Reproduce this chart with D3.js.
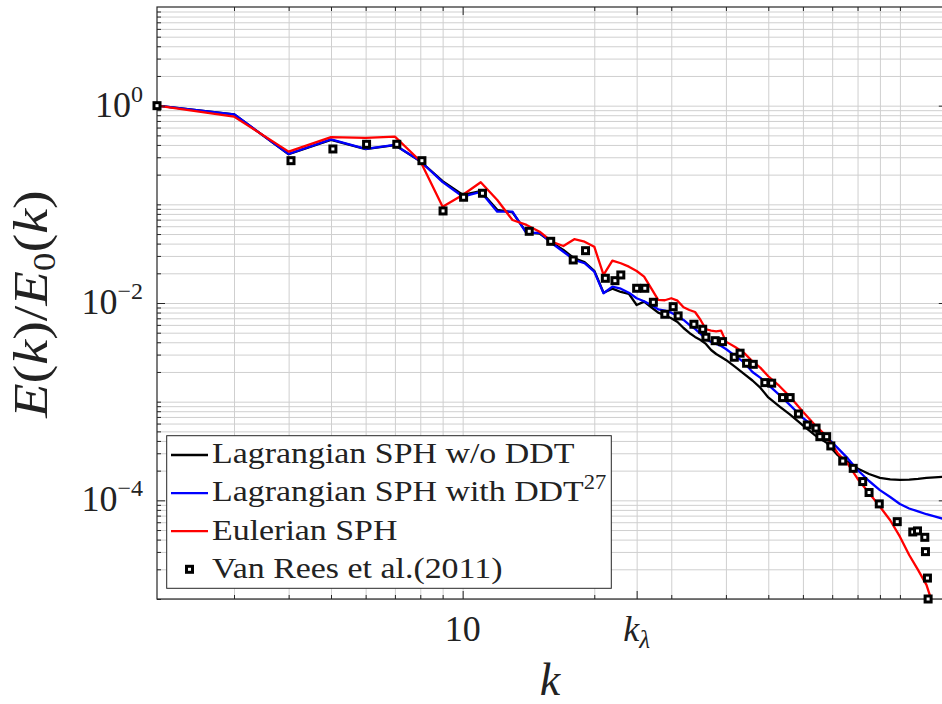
<!DOCTYPE html>
<html>
<head>
<meta charset="utf-8">
<script src="https://cdn.jsdelivr.net/npm/d3@7/dist/d3.min.js"></script>
<style>
  html, body { margin: 0; padding: 0; background: #ffffff; }
  svg { display: block; }
  text { font-family: "Liberation Serif", "Times New Roman", serif; fill: #222222; }
</style>
</head>
<body>
<svg id="chart" width="942" height="704"></svg>
<script>
// Wavenumbers at which the simulated spectra are sampled
const kLine = [2,3,4,5,6,7,8,9,10,11,12,13,14,15,16,17,18,19,20,21,22,23,24,25,26,27,28,29,30,
  31,32,33,34,35,36,37,38,39,40,42,44,46,48,50,53,56,60,64,68,72,76,80,85,90,95,100,105,110,115,120,128];

// Lagrangian SPH without density diffusion
const eBlack = [1.0,0.818,0.322,0.450,0.362,0.398,0.273,0.172,0.125,0.136,0.088,0.083,0.052,0.0505,0.041,
  0.0345,0.0283,0.026,0.0212,0.0127,0.01397,0.01294,0.01235,0.00955,0.01032,0.00905,0.00798,0.00751,0.00700,
  0.00642,0.00558,0.00497,0.00453,0.00422,0.00385,0.00334,0.00304,0.00284,0.00265,
  0.00225,0.00191,0.00164,0.001377,0.001103,0.000898,0.000742,0.000574,0.000455,0.000382,0.000288,0.000245,
  0.000210,0.000185,0.0001686,0.0001628,0.000161,0.000162,0.0001647,0.0001686,0.0001706,0.0001746];

// Lagrangian SPH with density diffusion
const eBlue = [1.0,0.818,0.324,0.456,0.364,0.400,0.275,0.168,0.120,0.134,0.0843,0.0843,0.0509,0.0516,0.0403,
  0.0331,0.0273,0.0253,0.0208,0.01255,0.01464,0.01397,0.01273,0.01117,0.01041,0.00955,0.00864,0.00836,0.00798,
  0.00739,0.00673,0.00599,0.00546,0.00486,0.00432,0.00403,0.00385,0.00367,0.00342,
  0.00291,0.00250,0.00200,0.00174,0.00148,0.00117,0.000928,0.000684,0.000541,0.000439,0.000340,0.000266,
  0.000203,0.000157,0.000127,0.000108,0.0000919,0.0000827,0.0000772,0.0000723,0.0000687,0.0000633];

// Eulerian SPH (drops out through the bottom of the axes near k = 118)
const kRed = [2,3,4,5,6,7,8,9,10,11,12,13,14,15,16,17,18,19,20,21,22,23,24,25,26,27,28,29,30,
  31,32,33,34,35,36,37,38,39,40,42,44,46,48,50,53,56,60,64,68,72,76,80,85,90,95,100,105,110,115,118];
const eRed = [1.0,0.774,0.342,0.479,0.471,0.485,0.275,0.0947,0.1245,0.1674,0.1107,0.0694,0.0618,0.0528,0.0418,
  0.0378,0.0443,0.0418,0.0372,0.01924,0.02686,0.02527,0.02335,0.02112,0.01849,0.0141,0.01074,0.01066,0.01117,
  0.01056,0.00905,0.0085,0.00811,0.00673,0.00542,0.00525,0.00517,0.00525,0.00406,
  0.00358,0.00312,0.00257,0.00220,0.00181,0.001443,0.001129,0.000792,0.000578,0.000442,0.000302,0.000234,
  0.0001658,0.0001188,0.0000863,0.0000628,0.0000428,0.0000279,0.0000197,0.0000139,0.0000098];

// Reference spectrum, Van Rees et al. (2011)
const kRef = [2,4.05,5.05,6.03,7.07,8.07,9.02,10.05,11.1,14.2,15.9,17.9,19.1,21.2,22.3,23.0,25.0,26.1,27.3,
  29.0,30.3,31.1,33.8,35.4,36.0,37.8,39.3,41.8,43.1,44.6,46.2,49.1,50.9,53.9,56.1,58.6,61.4,64.3,65.6,68,
  69.5,74,78.2,82.2,85,89.7,98.6,107,109.7,114,114.4,115.6,116];
const eRef = [1.0,0.277,0.364,0.406,0.406,0.277,0.0857,0.118,0.1295,0.0533,0.0422,0.0273,0.0339,0.0178,
  0.01684,0.01924,0.0141,0.0141,0.01017,0.00769,0.00918,0.0074,0.00609,0.00542,0.0045,0.00415,0.00406,
  0.00282,0.0031,0.00245,0.00239,0.00156,0.00154,0.0011,0.0011,0.00075,0.00058,0.00054,0.000442,0.000442,
  0.000356,0.00025,0.000211,0.000155,0.00012,0.000092,0.0000608,0.0000478,0.000049,0.0000422,0.0000302,
  0.0000163,0.00001];

// Axis ticks and labels
const xMajorTicks = [10, 25];
const xTickLabels = ["10", "k", "λ"];   // 25 is labelled k with subscript lambda
const xMinorTicks = [3,4,5,6,7,8,9,20,30,40,50,60,70,80,90,100];
const yMajorTicks = [1, 1e-2, 1e-4];
const yTickExponents = ["0", "−2", "−4"];

const seriesNames = ["Lagrangian SPH w/o DDT", "Lagrangian SPH with DDT", "Eulerian SPH", "Van Rees et al.(2011)"];
const seriesColors = ["#000000", "#0000ff", "#ff0000"];

const svg = d3.select("#chart");
const X0 = 157, X1 = 946.8, Y0 = 7, Y1 = 599;

const x = d3.scaleLog().domain([2, 128]).range([X0, X1]);
const y = d3.scaleLog().domain([1e-5, 10]).range([Y1, Y0]);

// Minor y ticks: 1..9 times each decade, excluding the labelled decades
const yMinorTicks = [];
for (let d = -5; d <= 0; d++) {
  for (let m = 1; m <= 9; m++) {
    const v = m * Math.pow(10, d);
    if (!yMajorTicks.some(t => Math.abs(t - v) / v < 1e-9)) yMinorTicks.push(v);
  }
}

svg.append("rect").attr("width", 942).attr("height", 704).attr("fill", "#fff");

// ---- grid ----
const grid = svg.append("g");
grid.append("g").attr("transform", `translate(0,${Y1})`)
  .call(d3.axisBottom(x).tickValues(xMinorTicks.concat(xMajorTicks)).tickSize(-(Y1 - Y0)).tickFormat(""));
grid.append("g").attr("transform", `translate(${X0},0)`)
  .call(d3.axisLeft(y).tickValues(yMinorTicks.concat(yMajorTicks)).tickSize(-(X1 - X0)).tickFormat(""));
grid.selectAll(".domain").remove();
grid.selectAll(".tick line").attr("stroke", "#cfcfcf").attr("stroke-width", 1);

// ---- data ----
svg.append("clipPath").attr("id", "plotClip")
  .append("rect").attr("x", X0).attr("y", Y0).attr("width", X1 - X0).attr("height", Y1 - Y0);

const line = d3.line().x(d => x(d[0])).y(d => y(d[1]));
const lineData = [d3.zip(kLine, eBlack), d3.zip(kLine, eBlue), d3.zip(kRed, eRed)];
const plot = svg.append("g").attr("clip-path", "url(#plotClip)");
lineData.forEach((pts, i) => {
  plot.append("path").datum(pts)
    .attr("d", line)
    .attr("fill", "none")
    .attr("stroke", seriesColors[i])
    .attr("stroke-width", 2.3)
    .attr("stroke-linejoin", "round");
});

// ---- axes (ticks on all four sides, pointing inward) ----
const axes = svg.append("g");
function styleAxis(g) {
  g.selectAll(".domain").remove();
  g.selectAll(".tick line").attr("stroke", "#262626").attr("stroke-width", 1);
  g.selectAll(".tick text").remove();
}
[[xMinorTicks, 4], [xMajorTicks, 8]].forEach(([vals, len]) => {
  axes.append("g").attr("transform", `translate(0,${Y1})`)
    .call(d3.axisBottom(x).tickValues(vals).tickSize(-len)).call(styleAxis);
  axes.append("g").attr("transform", `translate(0,${Y0})`)
    .call(d3.axisTop(x).tickValues(vals).tickSize(-len)).call(styleAxis);
});
[[yMinorTicks, 4], [yMajorTicks, 8]].forEach(([vals, len]) => {
  axes.append("g").attr("transform", `translate(${X0},0)`)
    .call(d3.axisLeft(y).tickValues(vals).tickSize(-len)).call(styleAxis);
  axes.append("g").attr("transform", `translate(${X1},0)`)
    .call(d3.axisRight(y).tickValues(vals).tickSize(-len)).call(styleAxis);
});
axes.append("rect").attr("x", X0).attr("y", Y0).attr("width", X1 - X0).attr("height", Y1 - Y0)
  .attr("fill", "none").attr("stroke", "#262626").attr("stroke-width", 1.2);

// reference markers, drawn above the lines
svg.append("g").selectAll("rect").data(d3.zip(kRef, eRef)).join("rect")
  .attr("x", d => x(d[0]) - 3).attr("y", d => y(d[1]) - 3)
  .attr("width", 6).attr("height", 6)
  .attr("fill", "#ffffff").attr("stroke", "#000000").attr("stroke-width", 3);

// ---- tick labels ----
svg.append("text").attr("x", x(xMajorTicks[0])).attr("y", 641)
  .attr("text-anchor", "middle").attr("font-size", 36).text(xTickLabels[0]);
const kl = svg.append("text").attr("x", x(xMajorTicks[1])).attr("y", 641)
  .attr("text-anchor", "middle").attr("font-size", 36);
kl.append("tspan").attr("font-style", "italic").text(xTickLabels[1]);
kl.append("tspan").attr("font-style", "italic").attr("font-size", 25).attr("dy", 7).text(xTickLabels[2]);

yMajorTicks.forEach((v, i) => {
  const t = svg.append("text").attr("x", 143).attr("y", y(v) + 11)
    .attr("text-anchor", "end").attr("font-size", 36);
  t.append("tspan").text("10");
  t.append("tspan").attr("font-size", 24).attr("dy", -15).text(yTickExponents[i]);
});

// ---- axis labels ----
const xl = svg.append("text").attr("x", 550).attr("y", 695)
  .attr("text-anchor", "middle").attr("font-size", 46);
xl.append("tspan").attr("font-style", "italic").text("k");

const yl = svg.append("text").attr("transform", "translate(47,304) rotate(-90) scale(1.17,1)")
  .attr("text-anchor", "middle").attr("font-size", 48);
yl.append("tspan").attr("font-style", "italic").text("E");
yl.append("tspan").text("(");
yl.append("tspan").attr("font-style", "italic").text("k");
yl.append("tspan").text(")/");
yl.append("tspan").attr("font-style", "italic").text("E");
yl.append("tspan").attr("font-size", 32).attr("dy", 8).text("0");
yl.append("tspan").attr("dy", -8).text("(");
yl.append("tspan").attr("font-style", "italic").text("k");
yl.append("tspan").text(")");

// ---- legend ----
const lg = svg.append("g");
lg.append("rect").attr("x", 166.7).attr("y", 435.7).attr("width", 444.6).attr("height", 152.6)
  .attr("fill", "#ffffff").attr("stroke", "#262626").attr("stroke-width", 1);
const rowY = d3.range(4).map(i => 455 + i * 38.1);
seriesNames.forEach((name, i) => {
  const ry = rowY[i];
  if (i < 3) {
    lg.append("line").attr("x1", 171).attr("x2", 208).attr("y1", ry).attr("y2", ry)
      .attr("stroke", seriesColors[i]).attr("stroke-width", 2.3);
  } else {
    lg.append("rect").attr("x", 189.5 - 3).attr("y", ry - 3).attr("width", 6).attr("height", 6)
      .attr("fill", "#fff").attr("stroke", "#000").attr("stroke-width", 3);
  }
  const t = lg.append("g").attr("transform", `translate(212,${ry + 8.3}) scale(1.13,1)`)
    .append("text").attr("font-size", 30);
  t.append("tspan").text(name);
  if (i === 1) t.append("tspan").attr("font-size", 20).attr("dy", -12).text("27");
});
</script>
</body>
</html>
